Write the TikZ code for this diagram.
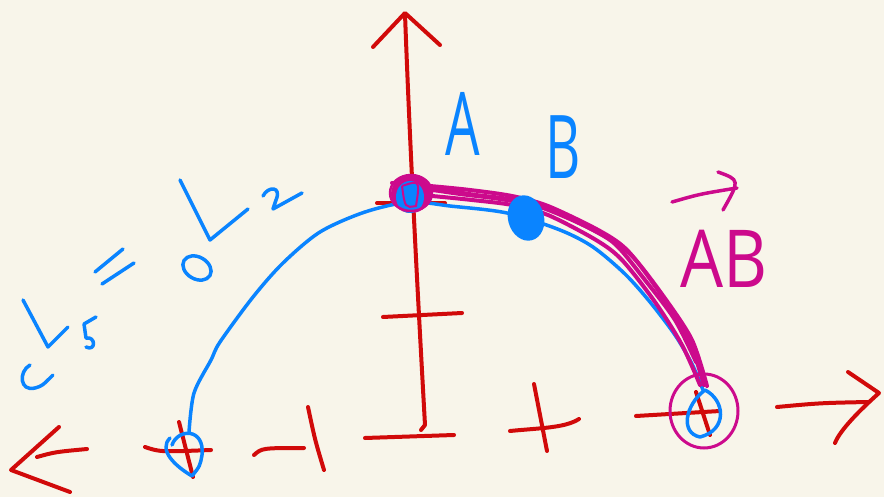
\documentclass[tikz,border=0pt]{standalone}
\usepackage{fontspec}
\setmainfont{Open Sans}
\definecolor{bgc}{HTML}{F8F5EA}
\definecolor{redc}{HTML}{D10A0A}
\definecolor{bluec}{HTML}{0A84FF}
\definecolor{magc}{HTML}{CC0A8C}
\begin{document}
\begin{tikzpicture}[x=1pt,y=-1pt,
  rs/.style={draw=redc,line width=4pt,line cap=round,line join=round},
  bs/.style={draw=bluec,line width=3.5pt,line cap=round,line join=round},
  ms/.style={draw=magc,line width=4pt,line cap=round,line join=round},
  lbl/.style={inner sep=0pt,font=\fontsize{88}{88}\selectfont,xscale=0.62}]
\fill[bgc] (0,0) rectangle (884,497);
\useasboundingbox (0,0) rectangle (884,497);
% ---- red axes ----
\draw[rs] (405,14) .. controls (410,150) and (418,300) .. (425,425) -- (421,430);
\draw[rs] (373,47) -- (405,13) -- (440,45);
\draw[rs] (383,317) -- (462,313);
\draw[rs] (377,203) -- (445,203);
\draw[rs] (365,438) -- (454,435);
\draw[rs] (59,427) -- (11,470) -- (70,492);
\draw[rs] (37,457) .. controls (55,452) .. (87,449);
\draw[rs] (145,447) .. controls (160,452) .. (211,450);
\draw[rs] (179,422) -- (193,477);
\draw[rs] (254,455) .. controls (262,448) .. (304,448);
\draw[rs] (308,407) .. controls (315,440) .. (324,470);
\draw[rs] (510,431) .. controls (540,428) and (565,428) .. (579,419);
\draw[rs] (534,384) -- (547,451);
\draw[rs] (636,416) -- (720,411);
\draw[rs] (696,392) -- (710,435);
\draw[rs] (777,407) .. controls (820,403) .. (868,402);
\draw[rs] (848,372) -- (879,393) .. controls (860,410) and (840,430) .. (835,443);
% ---- blue curve ----
\draw[bs] plot[smooth] coordinates {(189,432) (194,393) (211,360) (220,342) (253,297) (283,263) (320,232) (365,212) (410,202) (450,206) (507,213) (560,230) (593,247) (625,274) (650,302) (675,335) (692,364) (703,390)};
\draw[bs] (172,445) .. controls (178,428) and (205,428) .. (202,455) .. controls (200,466) .. (192,476) .. controls (175,466) and (158,450) .. (170,438);
\draw[bs] (705,390) .. controls (725,400) and (728,430) .. (700,437) .. controls (680,433) and (685,405) .. (705,390);
% ---- magenta path A -> B -> end ----
\draw[ms] plot[smooth] coordinates {(392,183) (430,186) (470,190) (512,196) (548,206) (600,231) (628,251) (660,293) (688,338) (704,385)};
\draw[ms] plot[smooth] coordinates {(395,193) (432,196) (472,200) (512,205) (548,215) (596,240) (622,260) (655,302) (682,345) (700,385)};
\draw[ms] plot[smooth] coordinates {(400,197) (436,190) (476,195) (515,200) (552,210) (604,236) (632,256) (664,297) (692,340) (707,386)};
\draw[ms] plot[smooth] coordinates {(420,188) (460,194) (500,199) (540,207) (585,226) (615,244) (645,280) (675,320) (696,362)};
\draw[magc,line width=3pt] (704,411) ellipse[x radius=34,y radius=37];
% ---- points ----
\fill[magc] (411,194) ellipse[x radius=20,y radius=19];
\fill[bluec] (410,197) ellipse[x radius=14,y radius=16];
\draw[ms,line width=2.5pt] (411,193) ellipse[x radius=21,y radius=18];
\draw[magc,line width=2pt] (402,186) .. controls (420,180) .. (416,206) .. controls (405,208) .. (402,186);
\fill[bluec,rotate around={15:(526,218)}] (526,218) ellipse[x radius=18,y radius=23];
% ---- handwritten formula ----
\draw[bs] (30,365) .. controls (18,372) and (20,392) .. (35,388) .. controls (42,386) .. (53,375);
\draw[bs] (23,300) -- (48,347) -- (68,327);
\draw[bs] (96,317) -- (84,324) -- (86,338) .. controls (96,336) and (96,352) .. (86,347);
\draw[bs] (95,272) -- (123,249);
\draw[bs] (102,284) -- (134,263);
\draw[bs,rotate around={-30:(197,268)}] (197,268) ellipse[x radius=15,y radius=11];
\draw[bs] (180,180) -- (210,240) -- (248,209);
\draw[bs] (263,196) .. controls (268,186) and (282,186) .. (276,200) -- (273,209) -- (302,193);
% ---- labels ----
\node[lbl,text=bluec] (la) at (463,124) {A};
\node[lbl,text=bluec] (lb) at (563,147) {B};
\node[inner sep=0pt,text=magc,font=\fontsize{80}{80}\selectfont,xscale=0.85] (lab) at (724,259) {AB};
\draw[ms,line width=3.5pt] (672,202) .. controls (700,194) .. (737,188);
\draw[ms,line width=3.5pt] (718,172) .. controls (740,180) .. (723,210);
\end{tikzpicture}
\end{document}
